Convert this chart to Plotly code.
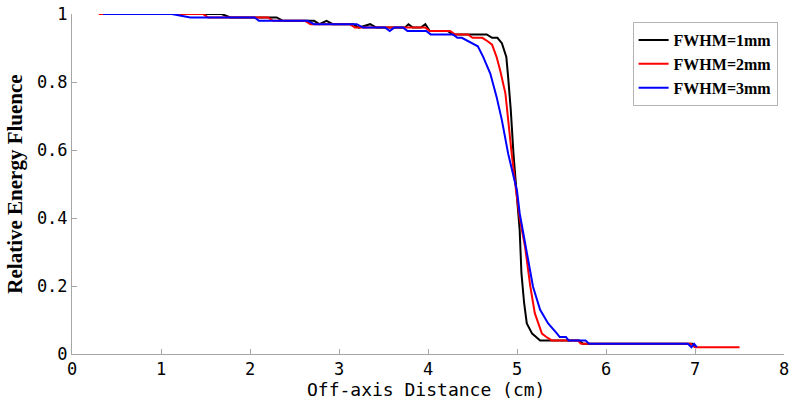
import plotly.graph_objects as go

# FWHM = 1 mm (black)
x_1mm = [0.35, 1.68, 1.78, 2.30, 2.37, 2.72, 2.78, 2.86, 2.93, 3.16, 3.22, 3.35, 3.42,
         3.74, 3.78, 3.83, 3.92, 3.97, 4.02, 4.22, 4.28, 4.66, 4.72, 4.78, 4.83, 4.88,
         4.90, 4.93, 4.96, 4.98, 5.00, 5.03, 5.05, 5.08, 5.11, 5.17, 5.26, 5.70, 5.74,
         6.97, 7.00]
y_1mm = [1.00, 1.00, 0.99, 0.99, 0.98, 0.98, 0.97, 0.98, 0.97, 0.97, 0.96, 0.97, 0.96,
         0.96, 0.97, 0.96, 0.96, 0.97, 0.95, 0.95, 0.94, 0.94, 0.93, 0.93, 0.914, 0.874,
         0.816, 0.718, 0.59, 0.51, 0.46, 0.365, 0.237, 0.15, 0.09, 0.06, 0.04, 0.04, 0.03,
         0.03, 0.02]

# FWHM = 2 mm (red)
x_2mm = [0.30, 1.47, 1.53, 2.20, 2.26, 2.62, 2.68, 3.12, 3.18, 3.97, 4.02, 4.25, 4.30,
         4.45, 4.50, 4.61, 4.67, 4.72, 4.77, 4.81, 4.87, 4.90, 4.94, 4.99, 5.03, 5.09,
         5.15, 5.20, 5.24, 5.28, 5.33, 5.39, 5.68, 5.72, 6.95, 7.00, 7.50]
y_2mm = [1.00, 1.00, 0.99, 0.99, 0.98, 0.98, 0.97, 0.97, 0.96, 0.96, 0.95, 0.95, 0.94,
         0.94, 0.93, 0.93, 0.92, 0.91, 0.874, 0.835, 0.766, 0.688, 0.59, 0.48, 0.40, 0.316,
         0.198, 0.12, 0.09, 0.06, 0.05, 0.04, 0.04, 0.03, 0.03, 0.02, 0.02]

# FWHM = 3 mm (blue)
x_3mm = [0.35, 1.12, 1.33, 2.05, 2.10, 2.65, 2.72, 3.20, 3.27, 3.52, 3.57, 3.62, 3.72,
         3.77, 3.98, 4.03, 4.28, 4.33, 4.38, 4.45, 4.56, 4.62, 4.70, 4.77, 4.83, 4.90,
         5.00, 5.03, 5.11, 5.18, 5.26, 5.35, 5.45, 5.48, 5.55, 5.58, 5.77, 5.81, 6.92,
         6.96, 6.99, 7.02]
y_3mm = [1.00, 1.00, 0.99, 0.99, 0.98, 0.98, 0.97, 0.97, 0.96, 0.96, 0.95, 0.96, 0.96,
         0.95, 0.95, 0.94, 0.94, 0.93, 0.93, 0.92, 0.905, 0.874, 0.825, 0.757, 0.688, 0.59,
         0.48, 0.414, 0.295, 0.198, 0.13, 0.09, 0.06, 0.05, 0.05, 0.04, 0.04, 0.03, 0.03,
         0.02, 0.03, 0.02]

series_names = ["FWHM=1mm", "FWHM=2mm", "FWHM=3mm"]
series_colors = ["#000000", "#ff0000", "#0000ff"]
x_ticks = [0, 1, 2, 3, 4, 5, 6, 7, 8]
y_ticks = [0, 0.2, 0.4, 0.6, 0.8, 1]
y_tick_text = ["0", "0.2", "0.4", "0.6", "0.8", "1"]
x_title = "Off-axis Distance (cm)"
y_title = "Relative Energy Fluence"

fig = go.Figure()
for xs, ys, name, col in zip([x_1mm, x_2mm, x_3mm], [y_1mm, y_2mm, y_3mm],
                             series_names, series_colors):
    fig.add_trace(go.Scatter(x=xs, y=ys, mode="lines", name=name,
                             line=dict(color=col, width=2)))

axis_col = "#a6a6a6"
tick_font = dict(family="DejaVu Sans Mono", size=17, color="#000000")

fig.update_layout(
    width=795, height=400,
    margin=dict(l=72, r=11, t=14, b=46),
    paper_bgcolor="white", plot_bgcolor="white",
    showlegend=True,
    legend=dict(x=0.991, y=0.976, xanchor="right", yanchor="top",
                bgcolor="white", bordercolor="#b4b4b4", borderwidth=1,
                font=dict(family="Liberation Serif", size=16, color="#000000",
                          weight="bold"),
                itemwidth=30, tracegroupgap=0),
    xaxis=dict(range=[0, 8], tickvals=x_ticks, showgrid=False, zeroline=False,
               showline=True, linecolor=axis_col, linewidth=1, automargin=False,
               ticks="inside", ticklen=5, tickcolor=axis_col,
               tickfont=tick_font),
    yaxis=dict(range=[0, 1], tickvals=y_ticks, ticktext=y_tick_text, showgrid=False,
               zeroline=False, showline=True, linecolor=axis_col, linewidth=1,
               automargin=False,
               ticks="inside", ticklen=5, tickcolor=axis_col,
               tickfont=tick_font,
               title=dict(text=y_title, standoff=8,
                          font=dict(family="Liberation Serif", size=21, color="#000000",
                                    weight="bold"))),
    annotations=[dict(text=x_title, xref="paper", yref="paper", x=0.497, y=0,
                      xanchor="center", yanchor="top", yshift=-24, showarrow=False,
                      borderpad=0,
                      font=dict(family="DejaVu Sans Mono", size=18, color="#000000"))],
)

fig.write_html("out.html")
